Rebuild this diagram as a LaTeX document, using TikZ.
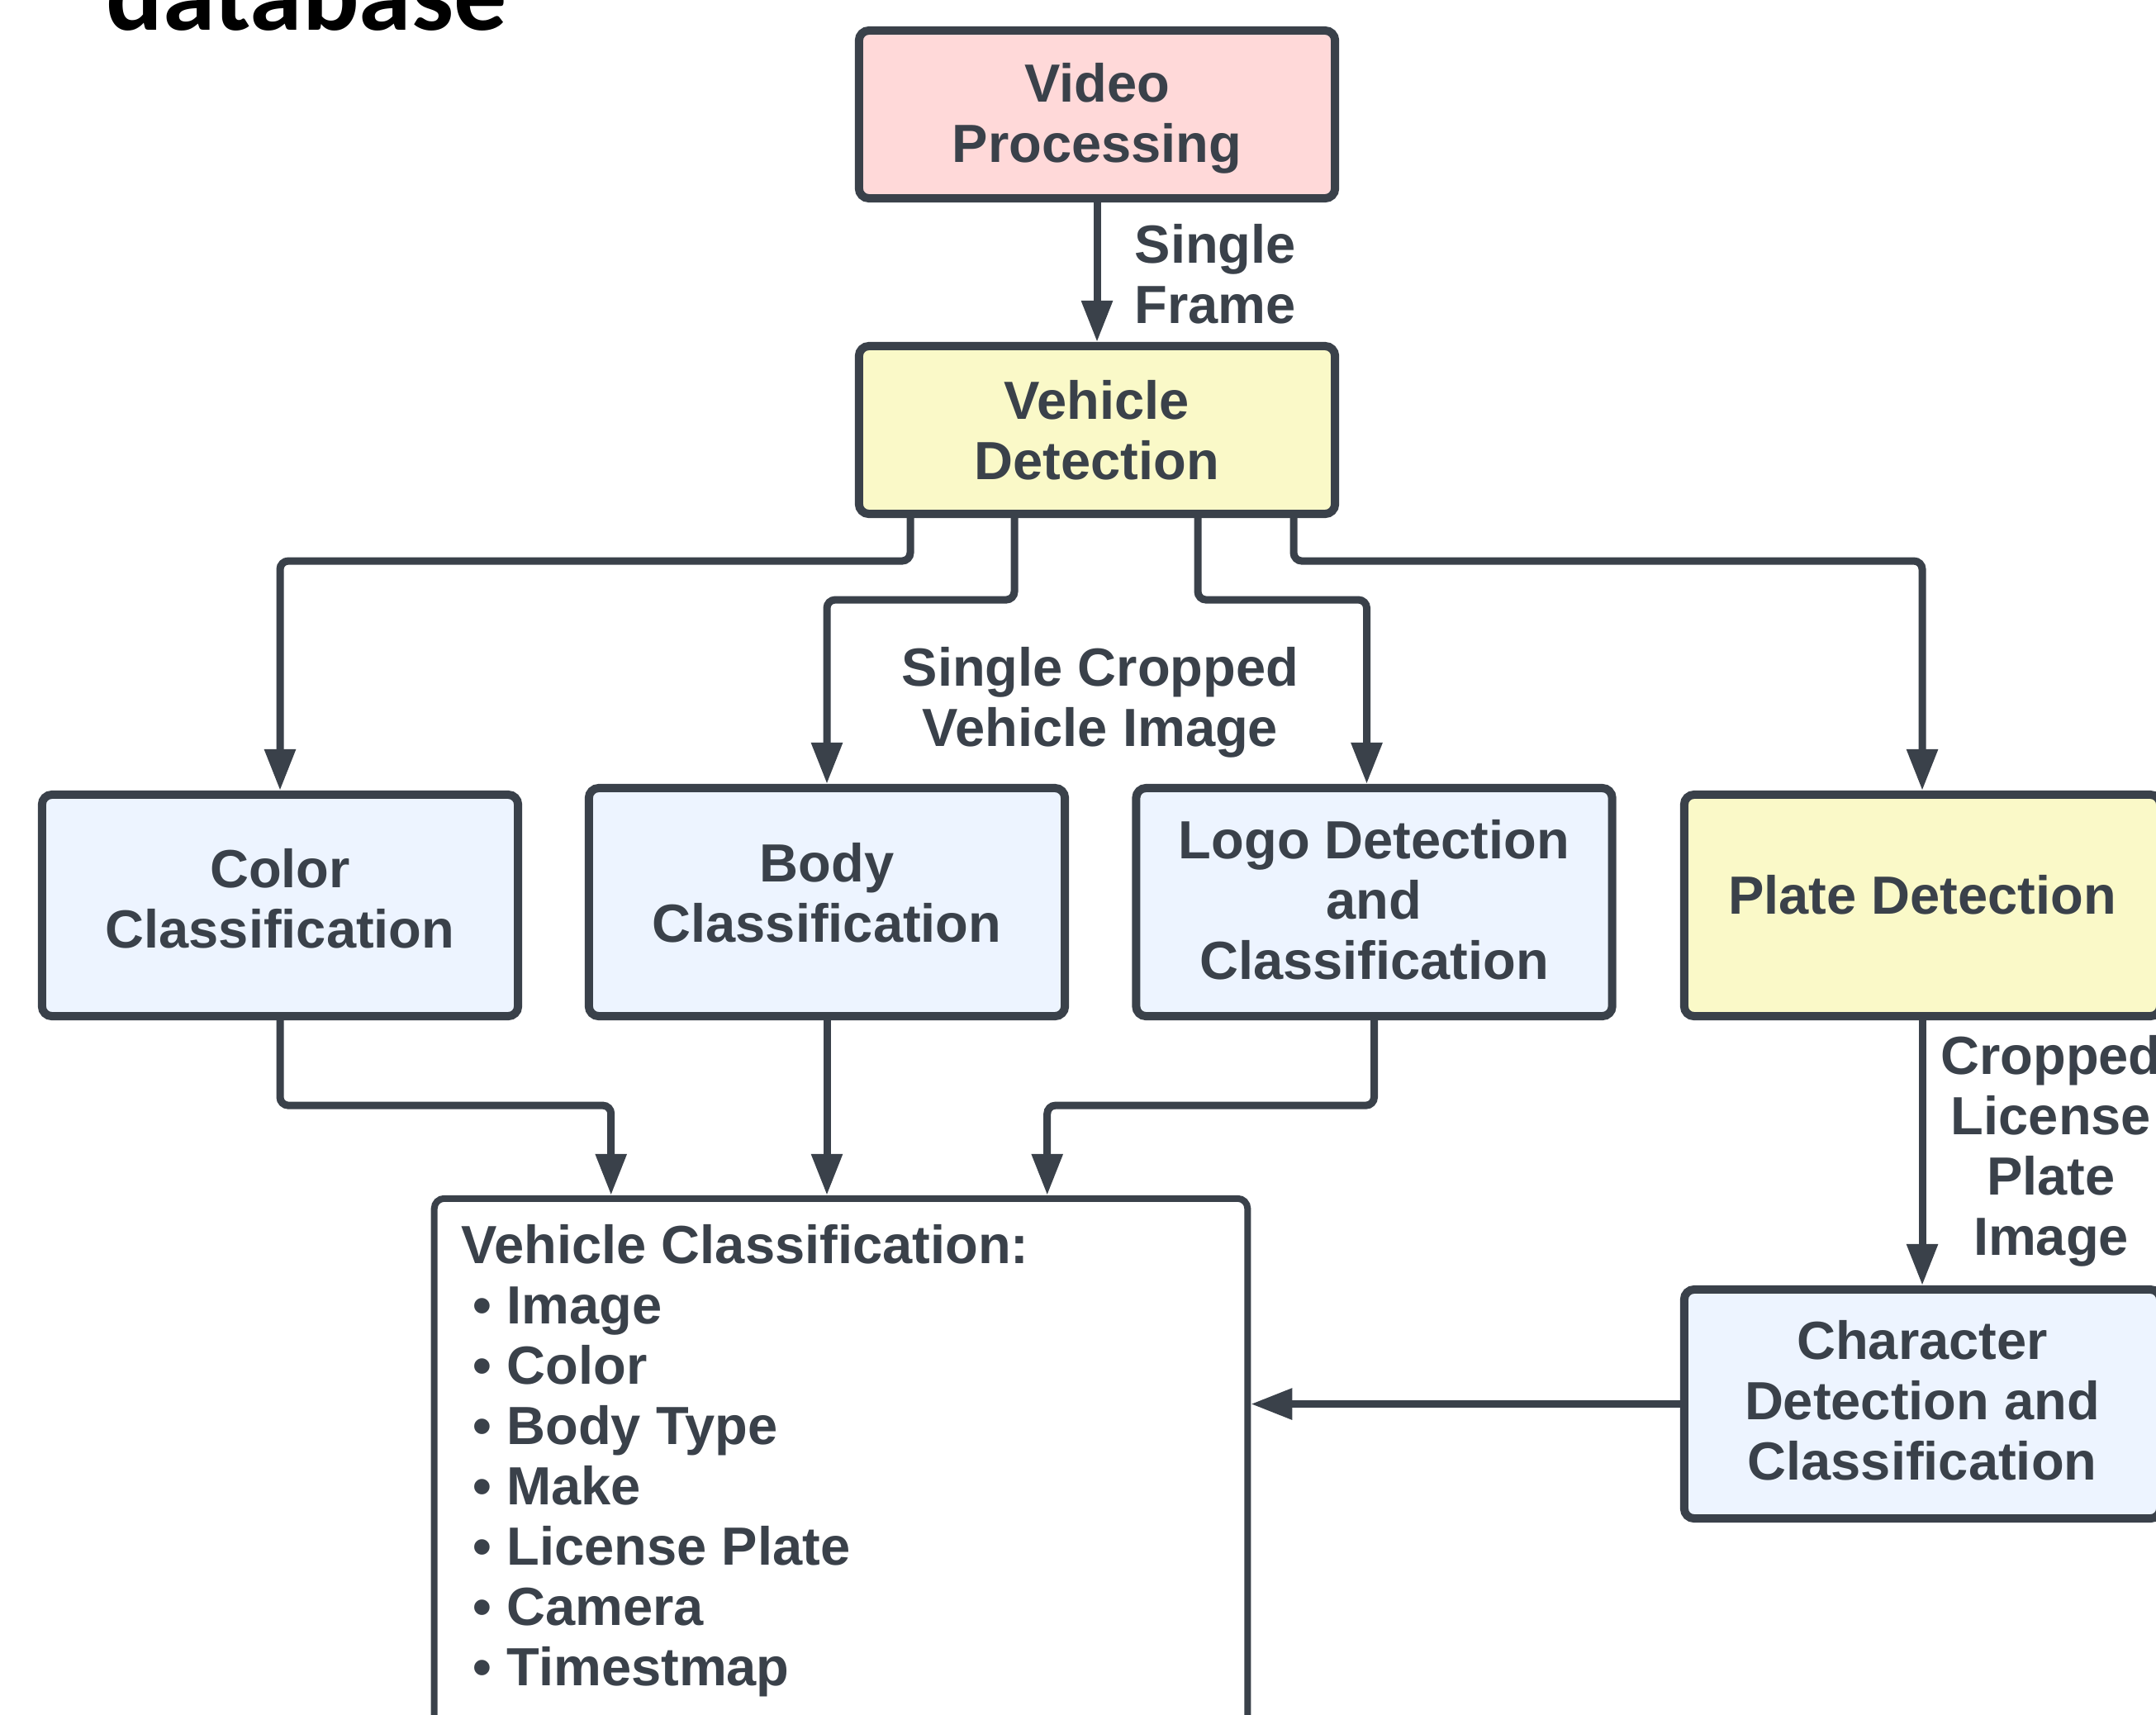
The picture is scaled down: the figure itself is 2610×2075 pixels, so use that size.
\documentclass[tikz,border=0pt]{standalone}
\usepackage{fontspec}
\setmainfont{Liberation Sans}
\newfontfamily\titlefont{Carlito}
\usetikzlibrary{arrows.meta,calc}
\definecolor{ink}{HTML}{3A414A}
\definecolor{pinkfill}{HTML}{FFD9D9}
\definecolor{yellowfill}{HTML}{FAF9C8}
\definecolor{bluefill}{HTML}{EDF4FF}
\newcommand\diagfont{\fontsize{0.65cm}{0.73cm}\selectfont\bfseries}
\begin{document}
\begin{tikzpicture}[x=0.01cm, y=-0.01cm,
  box/.style={draw=ink, line width=0.1cm, rounded corners=0.12cm, minimum width=5.76cm, inner sep=0pt},
  conn/.style={draw=ink, line width=0.09cm, rounded corners=0.1cm,
    -{Triangle[length=0.5cm,width=0.36cm]}},
  lbl/.style={text=ink, font=\diagfont, inner sep=0pt}]
\useasboundingbox (0,0) rectangle (2610,2075);
\clip (0,0) rectangle (2610,2075);

% title fragment
\node[anchor=base west, inner sep=0pt, font=\titlefont\fontsize{1.28cm}{1.4cm}\selectfont\bfseries] (title) at (128,36) {database};

% boxes
\node[box, fill=pinkfill, minimum height=2.03cm] (vp) at (1328,138.5) {};
\node[box, fill=yellowfill, minimum height=2.03cm] (vd) at (1328,520.5) {};
\node[box, fill=bluefill, minimum height=2.68cm] (cc) at (339,1096) {};
\node[box, fill=bluefill, minimum height=2.76cm] (bc) at (1001,1092) {};
\node[box, fill=bluefill, minimum height=2.76cm] (lc) at (1663.5,1092) {};
\node[box, fill=yellowfill, minimum height=2.68cm] (pd) at (2327,1096) {};
\node[box, fill=bluefill, minimum height=2.77cm] (cd) at (2327,1699.5) {};
\node[draw=ink, line width=0.08cm, rounded corners=0.12cm, fill=white, minimum width=9.84cm,
  minimum height=7.49cm, inner sep=0pt] (vc) at (1018,1825.5) {};

% box texts
\node[lbl, align=center] (vp-t) at ($(vp.center)+(0,5)$) {Video\\Processing};
\node[lbl, align=center] (vd-t) at (vd.center) {Vehicle\\Detection};
\node[lbl, align=center] (cc-t) at ($(cc.center)+(0,-8)$) {Color\\Classification};
\node[lbl, align=center] (bc-t) at ($(bc.center)+(0,-11)$) {Body\\Classification};
\node[lbl, align=center] (lc-t) at ($(lc.center)+(0,-3)$) {Logo Detection\\and\\Classification};
\node[lbl, align=center] (pd-t) at ($(pd.center)+(0,-13)$) {Plate Detection};
\node[lbl, align=center] (cd-t) at ($(cd.center)+(0,-4)$) {Character\\Detection and\\Classification};
\node[lbl, anchor=north west, align=left] (vc-t) at (558,1481.5)
  {Vehicle Classification:\\
   \hspace*{0.14cm}• Image\\
   \hspace*{0.14cm}• Color\\
   \hspace*{0.14cm}• Body Type\\
   \hspace*{0.14cm}• Make\\
   \hspace*{0.14cm}• License Plate\\
   \hspace*{0.14cm}• Camera\\
   \hspace*{0.14cm}• Timestmap};

% connector labels
\node[lbl, anchor=north west, align=left] (sf) at (1373,271) {Single\\Frame};
\node[lbl, anchor=north, align=center] (scvi) at (1332,782.5) {Single Cropped\\Vehicle Image};
\node[lbl, anchor=north, align=center] (clpi) at (2483,1252.5) {Cropped\\License\\Plate\\Image};

% connectors
\draw[conn] (vp.south) -- (vd.north);
\draw[conn] ($(vd.south)+(-226,0)$) -- ++(0,52) -| (cc.north);
\draw[conn] ($(vd.south)+(-100,0)$) -- ++(0,99) -| (bc.north);
\draw[conn] ($(vd.south)+(122,0)$) -- ++(0,99) -| ($(lc.north)+(-9,0)$);
\draw[conn] ($(vd.south)+(238,0)$) -- ++(0,52) -| (pd.north);
\draw[conn] (cc.south) -- ++(0,103) -| ($(vc.north west)+(218,0)$);
\draw[conn] (bc.south) -- (bc.south |- vc.north);
\draw[conn] (lc.south) -- ++(0,103) -| ($(vc.north west)+(746,0)$);
\draw[conn] (pd.south) -- (cd.north);
\draw[conn] (cd.west) -- (cd.west -| vc.east);
\end{tikzpicture}
\end{document}
